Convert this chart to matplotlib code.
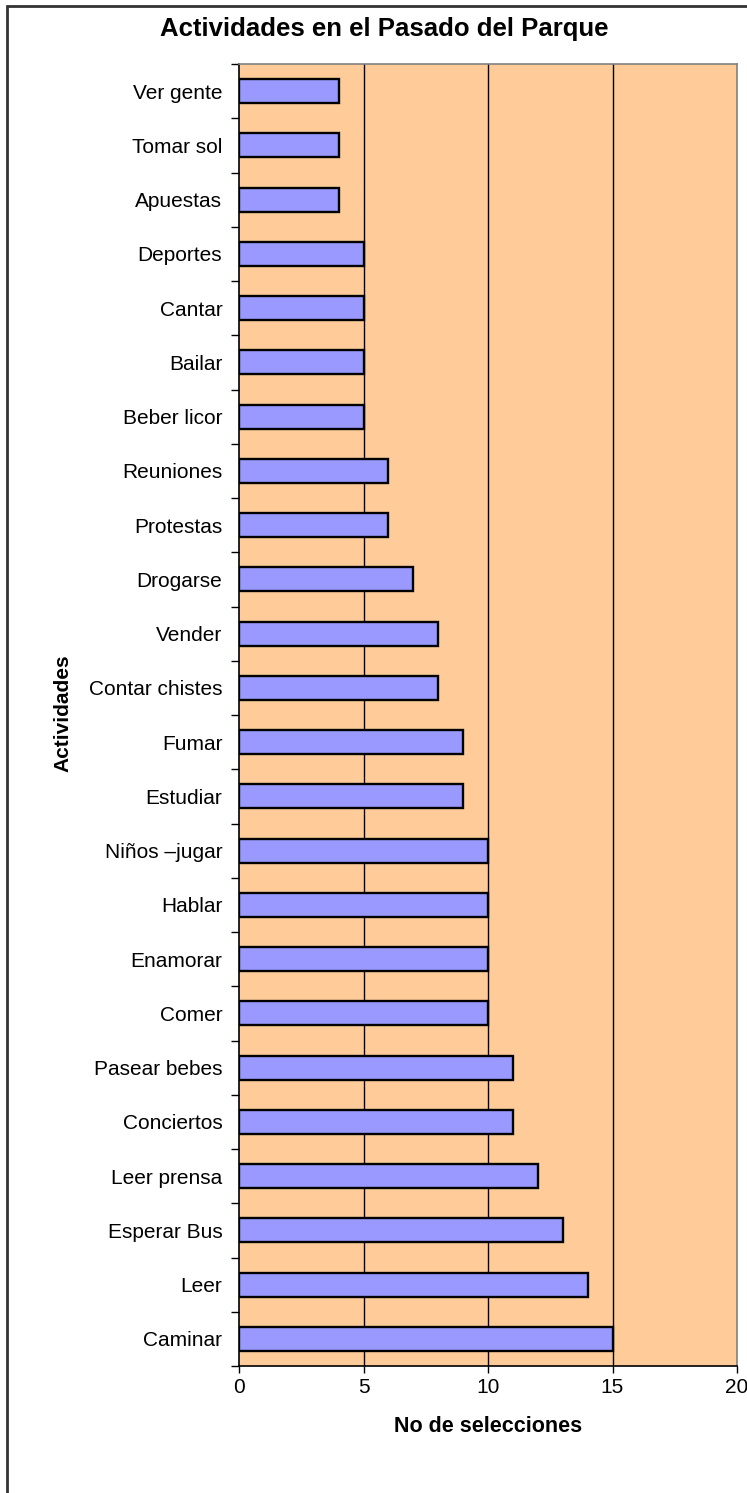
import numpy as np
import matplotlib
matplotlib.use("Agg")
import matplotlib.pyplot as plt
from matplotlib.patches import Rectangle

plt.rcParams['font.family'] = ['Liberation Sans', 'DejaVu Sans']

# data, bottom to top
actividades = ['Caminar', 'Leer', 'Esperar Bus', 'Leer prensa', 'Conciertos',
               'Pasear bebes', 'Comer', 'Enamorar', 'Hablar', 'Niños \u2013jugar',
               'Estudiar', 'Fumar', 'Contar chistes', 'Vender', 'Drogarse',
               'Protestas', 'Reuniones', 'Beber licor', 'Bailar', 'Cantar',
               'Deportes', 'Apuestas', 'Tomar sol', 'Ver gente']
selecciones = [15, 14, 13, 12, 11, 11, 10, 10, 10, 10, 9, 9, 8, 8, 7,
               6, 6, 5, 5, 5, 5, 4, 4, 4]
x_ticks = [0, 5, 10, 15, 20]

W, H = 747, 1493
fig = plt.figure(figsize=(W / 100, H / 100), dpi=100)
ax = fig.add_axes([239 / W, 1 - 1366 / H, (737 - 239) / W, (1366 - 64) / H])
ax.set_facecolor('#FFCC99')

pos = np.arange(len(actividades))
ax.barh(pos, selecciones, height=0.44, color='#9999FF', edgecolor='black',
        linewidth=1.7, zorder=3)

ax.set_xlim(0, 20)
ax.set_ylim(-0.5, len(actividades) - 0.5)
ax.set_xticks(x_ticks)
ax.set_xticklabels([str(t) for t in x_ticks], fontsize=15)
ax.tick_params(axis='x', direction='out', length=5, width=1, pad=3.5)
for v in x_ticks[1:-1]:
    ax.axvline(v, color='black', linewidth=1, zorder=1)

# ticks between categories, labels at the middle
ax.set_yticks(np.arange(-0.5, len(actividades), 1))
ax.set_yticklabels([])
ax.tick_params(axis='y', which='major', direction='out', length=6, width=1)
ax.set_yticks(pos, minor=True)
ax.set_yticklabels(actividades, minor=True, fontsize=15)
ax.tick_params(axis='y', which='minor', length=0, pad=12)

ax.spines['left'].set_color('black')
ax.spines['bottom'].set_color('black')
ax.spines['top'].set_color('#808080')
ax.spines['right'].set_color('#808080')
for s in ax.spines.values():
    s.set_linewidth(1.2)

fig.text(384 / W, 1 - 29 / H, 'Actividades en el Pasado del Parque',
         ha='center', va='center', fontsize=18.5, fontweight='bold')
fig.text(488 / W, 1 - 1426 / H, 'No de selecciones', ha='center', va='center',
         fontsize=15.5, fontweight='bold')
fig.text(63 / W, 1 - 713 / H, 'Actividades', ha='center', va='center',
         rotation=90, fontsize=15, fontweight='bold')

# chart border
fig.patches.append(Rectangle((7 / W, -0.01), 1.0, 1 - 6 / H + 0.01,
                             transform=fig.transFigure, fill=False,
                             edgecolor='#333333', linewidth=2))

fig.savefig('out.png', dpi=100)
